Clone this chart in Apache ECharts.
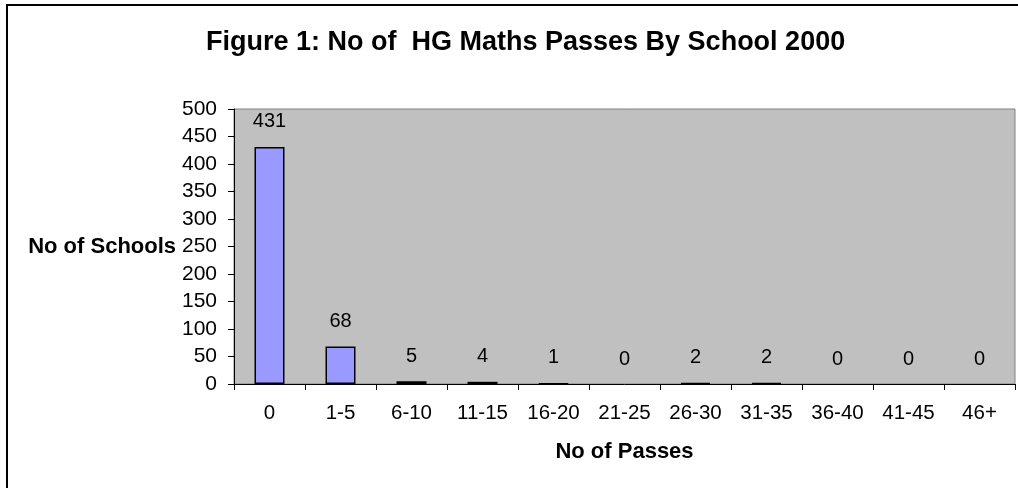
<!DOCTYPE html>
<html>
<head>
<meta charset="utf-8">
<script src="https://cdn.jsdelivr.net/npm/echarts@6/dist/echarts.min.js"></script>
<style>
  html, body { margin: 0; padding: 0; background: #fff; }
  #chart { width: 1018px; height: 488px; }
</style>
</head>
<body>
<div id="chart"></div>
<script>
var passBands = ["0", "1-5", "6-10", "11-15", "16-20", "21-25", "26-30", "31-35", "36-40", "41-45", "46+"];
var schoolCounts = [431, 68, 5, 4, 1, 0, 2, 2, 0, 0, 0];

var font = "Liberation Sans, Arial, sans-serif";

// zero bars have no visible outline in the original
var barData = schoolCounts.map(function(v) {
  return v === 0 ? { value: v, itemStyle: { borderWidth: 0 } } : v;
});

var chart = echarts.init(document.getElementById("chart"));
chart.setOption({
  animation: false,
  backgroundColor: "#fff",
  title: {
    text: "Figure 1: No of  HG Maths Passes By School 2000",
    left: 201,
    top: 24,
    textStyle: { fontFamily: font, fontSize: 27, fontWeight: "bold", color: "#000" }
  },
  graphic: [
    {
      type: "rect",
      shape: { x: 7, y: 5, width: 1200, height: 700 },
      style: { fill: null, stroke: "#000", lineWidth: 2 },
      silent: true
    }
  ],
  grid: {
    left: 234,
    top: 109,
    right: 3,
    bottom: 104,
    show: true,
    backgroundColor: "#c0c0c0",
    borderColor: "#808080",
    borderWidth: 1
  },
  xAxis: {
    type: "category",
    data: passBands,
    name: "No of Passes",
    nameLocation: "middle",
    nameGap: 57,
    nameTextStyle: { fontFamily: font, fontSize: 22, fontWeight: "bold", color: "#000" },
    axisLine: { lineStyle: { color: "#000", width: 1 } },
    axisTick: { show: true, length: 6, lineStyle: { color: "#000" } },
    axisLabel: { fontFamily: font, fontSize: 20.5, color: "#000", margin: 19, interval: 0 },
    splitLine: { show: false }
  },
  yAxis: {
    type: "value",
    min: 0,
    max: 500,
    interval: 50,
    name: "No of Schools",
    nameLocation: "middle",
    nameRotate: 0,
    nameGap: 57,
    nameTextStyle: { fontFamily: font, fontSize: 22, fontWeight: "bold", color: "#000" },
    axisLine: { show: true, lineStyle: { color: "#000", width: 1 } },
    axisTick: { show: true, length: 6, lineStyle: { color: "#000" } },
    axisLabel: { fontFamily: font, fontSize: 21, color: "#000", margin: 17 },
    splitLine: { show: false }
  },
  series: [
    {
      type: "bar",
      data: barData,
      barWidth: 30,
      itemStyle: { color: "#9999ff", borderColor: "#000", borderWidth: 1.5 },
      label: {
        show: true,
        position: "top",
        distance: 15,
        fontFamily: font,
        fontSize: 20,
        color: "#000"
      }
    }
  ]
});
</script>
</body>
</html>
